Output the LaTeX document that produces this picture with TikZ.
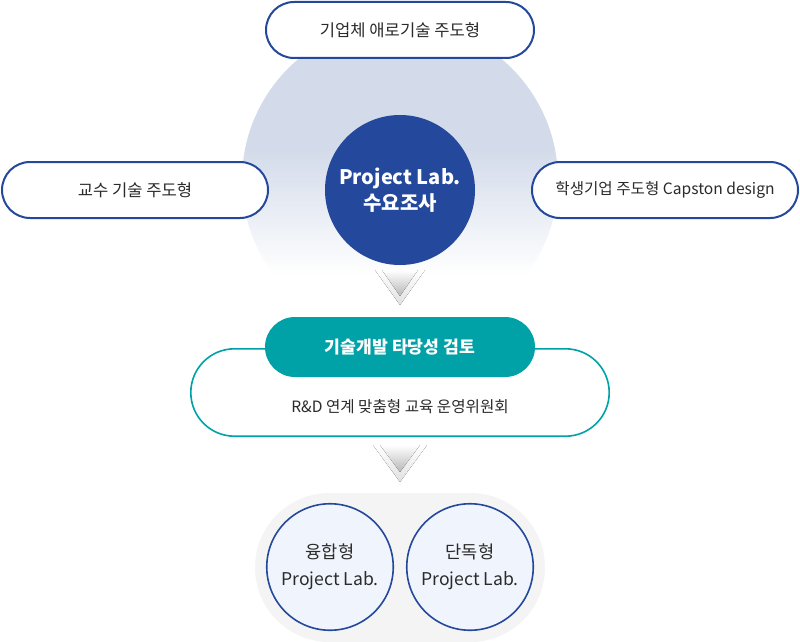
\documentclass[tikz,border=0pt]{standalone}
\usepackage{fontspec}
\setmainfont{Noto Sans CJK KR}
\usetikzlibrary{shapes.misc}
\definecolor{navy}{HTML}{24489B}
\definecolor{teal}{HTML}{00A1A7}
\definecolor{txt}{HTML}{2B2B2B}
\definecolor{bigc}{HTML}{D3DBEA}
\definecolor{bgg}{HTML}{F4F4F4}
\definecolor{cfill}{HTML}{F0F5FD}
\tikzset{
  pill/.style={rounded rectangle, draw=navy, line width=2pt, fill=white,
    minimum height=56pt, text=txt, font=\fontsize{16.6}{20}\selectfont, inner sep=0pt},
  labc/.style={circle, draw=navy, line width=1.6pt, fill=cfill, minimum size=126.5pt,
    inner sep=0pt, align=center, text=txt, font=\fontsize{17.6}{27}\selectfont},
  chevout/.style={top color=white, bottom color=black!12},
  chevin/.style={top color=white, bottom color=black!28}
}
\begin{document}
\begin{tikzpicture}[x=1pt,y=-1pt]
\useasboundingbox (0,0) rectangle (800,642);
% big faded circle
\begin{scope}
  \clip (400,180) circle (158pt);
  \fill[bigc] (230,0) rectangle (570,150);
  \shade[top color=bigc, bottom color=white] (230,149.5) rectangle (570,275);
\end{scope}
% pills
\node[pill, minimum width=268pt] (ent) at (400,30) {기업체 애로기술 주도형};
\node[pill, minimum width=266pt] (prof) at (135,190) {교수 기술 주도형};
\node[pill, minimum width=266pt, font=\fontsize{15.6}{20}\selectfont] (stud) at (665,190) {학생기업 주도형 Capston design};
% center circle
\node[circle, fill=navy, minimum size=150pt, inner sep=0pt, align=center, text=white,
  font=\bfseries\fontsize{20}{26}\selectfont] (demand) at (400,190) {Project Lab.\\수요조사};
% arrow 1
\fill[chevout] (375,270) -- (425,270) -- (400,305) -- cycle;
\fill[chevin] (382,270) -- (418,270) -- (400,296) -- cycle;
% review
\node[rounded rectangle, draw=teal, line width=1.6pt, fill=white, minimum width=418.4pt,
  minimum height=87.4pt, inner sep=0pt] (committee) at (400,392.5) {};
\node[text=txt, font=\fontsize{15.6}{18}\selectfont, inner sep=0pt] (rd) at (400,407) {R\&D 연계 맞춤형 교육 운영위원회};
\node[rounded rectangle, fill=teal, minimum width=270pt, minimum height=60pt, inner sep=0pt,
  text=white, font=\bfseries\fontsize{17.2}{20}\selectfont] (review) at (400,347) {기술개발 타당성 검토};
% arrow 2
\fill[chevout] (373,445) -- (427,445) -- (400,482) -- cycle;
\fill[chevin] (380,445) -- (420,445) -- (400,472) -- cycle;
% bottom
\node[rounded rectangle, fill=bgg, minimum width=290pt, minimum height=149pt, inner sep=0pt] (types) at (400,567.5) {};
\node[labc] (fusion) at (330,567) {융합형\\Project Lab.};
\node[labc] (single) at (470,567) {단독형\\Project Lab.};
\end{tikzpicture}
\end{document}
